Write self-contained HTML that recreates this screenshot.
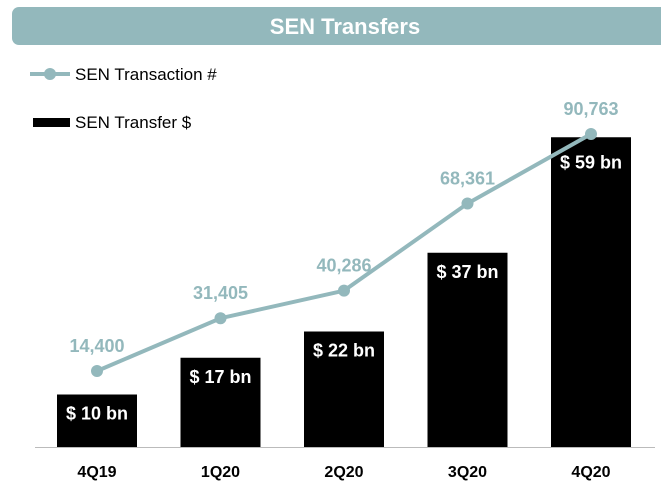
<!DOCTYPE html>
<html><head><meta charset="utf-8"><style>
body{margin:0;background:#fff;width:661px;height:490px;overflow:hidden;font-family:"Liberation Sans",sans-serif}
</style></head><body>
<svg width="661" height="490" xmlns="http://www.w3.org/2000/svg" font-family="Liberation Sans, sans-serif">
<rect x="12" y="7" width="660" height="38" rx="7" fill="#93b8bc"/>
<text x="345" y="34" text-anchor="middle" fill="#fff" font-size="22" font-weight="bold">SEN Transfers</text>
<g>
<line x1="30" y1="74" x2="70" y2="74" stroke="#93b8bc" stroke-width="4"/>
<circle cx="50" cy="74" r="6" fill="#93b8bc"/>
<text x="75" y="80" font-size="17" fill="#000">SEN Transaction #</text>
</g>
<g>
<rect x="33" y="118" width="37" height="9" fill="#000"/>
<text x="75" y="128" font-size="17" fill="#000">SEN Transfer $</text>
</g>
<line x1="35" y1="447.5" x2="655" y2="447.5" stroke="#bbb" stroke-width="1"/>
<g id="plot"></g>
</svg>
<script>
const categories=["4Q19","1Q20","2Q20","3Q20","4Q20"];
const transferBn=[10,17,22,37,59];
const transactions=[14400,31405,40286,68361,90763];
const txLabels=["14,400","31,405","40,286","68,361","90,763"];
const NS="http://www.w3.org/2000/svg";
const g=document.getElementById("plot");
const xc=i=>97+i*123.5;
const yBar=v=>447-v*5.25;
const yLine=v=>415.7-v*0.0031037;
function mk(t,a,txt){const e=document.createElementNS(NS,t);for(const k in a)e.setAttribute(k,a[k]);if(txt!==undefined)e.textContent=txt;g.appendChild(e);return e;}
transferBn.forEach((v,i)=>{
 const r=mk("rect",{x:xc(i)-40,y:yBar(v),width:80,height:447-yBar(v),fill:"#000"});
 
 
 const off=(i===categories.length-1)?31:25;
 const t=mk("text",{x:xc(i),y:yBar(v)+off,"text-anchor":"middle",fill:"#fff","font-size":18,"font-weight":"bold"},"$ "+v+" bn");
 
 
 const c=mk("text",{x:xc(i),y:477,"text-anchor":"middle",fill:"#000","font-size":16,"font-weight":"bold"},categories[i]);
 
 
});
const pl=mk("polyline",{points:transactions.map((v,i)=>xc(i)+","+yLine(v)).join(" "),fill:"none",stroke:"#93b8bc","stroke-width":4});


transactions.forEach((v,i)=>{
 const c=mk("circle",{cx:xc(i),cy:yLine(v),r:6,fill:"#93b8bc"});
 
 
 const t=mk("text",{x:xc(i),y:yLine(v)-19,"text-anchor":"middle",fill:"#93b8bc","font-size":18,"font-weight":"bold"},txLabels[i]);
 
 
});
</script>
</body></html>
